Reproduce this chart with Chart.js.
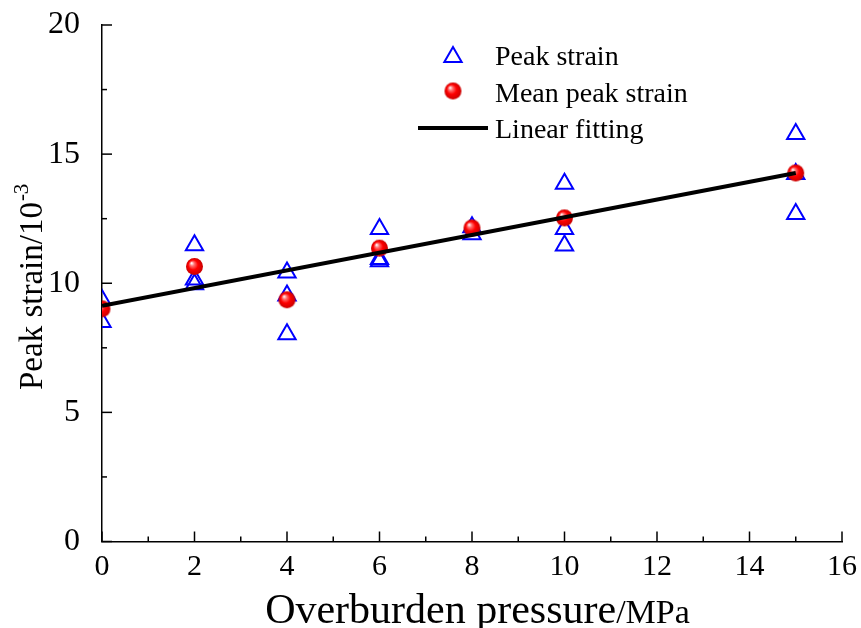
<!DOCTYPE html>
<html><head><meta charset="utf-8">
<script src="https://cdn.jsdelivr.net/npm/chart.js@4/dist/chart.umd.min.js"></script>
<style>html,body{margin:0;padding:0;background:#fff;}#wrap{width:861px;height:628px;position:relative;}</style>
</head><body><div id="wrap"><canvas id="c" width="861" height="628"></canvas></div>
<script>
// ---- data ----
const peakX = [0,0, 2,2,2, 4,4,4, 6,6,6, 8,8, 10,10,10, 15,15,15];
const peakY = [9.35,8.5, 11.47,10.15,9.96, 10.42,9.53,8.03, 12.1,10.94,10.85, 12.17,11.9, 13.85,12.1,11.46, 15.78,14.23,12.68];
const meanX = [0,2,4,6,8,10,15];
const meanY = [9.01,10.65,9.36,11.36,12.14,12.53,14.27];
const fitX = [0,15];
const fitY = [9.13,14.27];
const xTickValues = [0,2,4,6,8,10,12,14,16];
const yTickValues = [0,5,10,15,20];
const seriesNames = ['Peak strain','Mean peak strain','Linear fitting'];
const xTitleMain = 'Overburden pressure';
const xTitleUnit = '/MPa';
const yTitleMain = 'Peak strain/10';
const yTitleSup = '-3';

const FONT = "'Liberation Serif','Times New Roman',serif";

function makeSphere(r){
  const s = Math.ceil(r*2)+2;
  const cv = document.createElement('canvas');
  cv.width = s; cv.height = s;
  const g = cv.getContext('2d');
  const c = s/2;
  const grad = g.createRadialGradient(c-r*0.35, c-r*0.4, r*0.05, c, c, r);
  grad.addColorStop(0, '#fff4f4');
  grad.addColorStop(0.22, '#ff7070');
  grad.addColorStop(0.55, '#ff0000');
  grad.addColorStop(1, '#c80000');
  g.fillStyle = grad;
  g.beginPath(); g.arc(c, c, r, 0, Math.PI*2); g.fill();
  return cv;
}
const sphere = makeSphere(8.5);

const pts = (xs, ys) => xs.map((x,i)=>({x:x, y:ys[i]}));

const ticksPlugin = {
  id:'innerTicks',
  afterDraw(chart){
    const ctx = chart.ctx, xs = chart.scales.x, ys = chart.scales.y, a = chart.chartArea;
    ctx.save();
    ctx.strokeStyle = '#000'; ctx.lineWidth = 1.5;
    for (let v = 0; v <= 16; v += 1){
      const px = xs.getPixelForValue(v);
      const len = (v % 2 === 0) ? 10 : 5;
      ctx.beginPath(); ctx.moveTo(px, a.bottom); ctx.lineTo(px, a.bottom - len); ctx.stroke();
    }
    for (let v = 0; v <= 20; v += 2.5){
      const py = ys.getPixelForValue(v);
      const len = (v % 5 === 0) ? 10 : 5;
      ctx.beginPath(); ctx.moveTo(a.left, py); ctx.lineTo(a.left + len, py); ctx.stroke();
    }
    // axis titles
    ctx.fillStyle = '#000';
    ctx.textBaseline = 'alphabetic';
    ctx.textAlign = 'left';
    ctx.font = '42px ' + FONT;
    const w1 = ctx.measureText(xTitleMain).width;
    ctx.font = '34px ' + FONT;
    const w2 = ctx.measureText(xTitleUnit).width;
    const xStart = (265+690)/2 - (w1+w2)/2;
    ctx.font = '42px ' + FONT;
    ctx.fillText(xTitleMain, xStart, 623);
    ctx.font = '34px ' + FONT;
    ctx.fillText(xTitleUnit, xStart + w1, 623);
    // y title rotated
    ctx.save();
    ctx.translate(42, 390);
    ctx.rotate(-Math.PI/2);
    ctx.font = '33px ' + FONT;
    const wy = ctx.measureText(yTitleMain).width;
    ctx.fillText(yTitleMain, 0, 0);
    ctx.font = '21px ' + FONT;
    ctx.fillText(yTitleSup, wy + 1, -14);
    ctx.restore();
    // legend
    ctx.font = '28px ' + FONT;
    ctx.fillText(seriesNames[0], 495, 65);
    ctx.fillText(seriesNames[1], 495, 102);
    ctx.fillText(seriesNames[2], 495, 138);
    const tx = 453, ty = 57, r = 10;
    ctx.strokeStyle = '#0000ff'; ctx.lineWidth = 2;
    ctx.beginPath();
    ctx.moveTo(tx, ty - r);
    ctx.lineTo(tx + r*Math.sin(2*Math.PI/3), ty - r*Math.cos(2*Math.PI/3));
    ctx.lineTo(tx + r*Math.sin(4*Math.PI/3), ty - r*Math.cos(4*Math.PI/3));
    ctx.closePath(); ctx.stroke();
    ctx.drawImage(sphere, 453 - sphere.width/2, 91 - sphere.height/2);
    ctx.strokeStyle = '#000'; ctx.lineWidth = 4;
    ctx.beginPath(); ctx.moveTo(418, 128); ctx.lineTo(488, 128); ctx.stroke();
    ctx.restore();
  }
};

new Chart(document.getElementById('c'), {
  type:'scatter',
  data:{
    datasets:[
      {label:seriesNames[2], type:'line', data:pts(fitX, fitY), borderColor:'#000', borderWidth:4, pointRadius:0, fill:false, order:0, clip:0},
      {label:seriesNames[1], data:pts(meanX, meanY), pointStyle:sphere, pointRadius:8.5, order:1, clip:0},
      {label:seriesNames[0], data:pts(peakX, peakY), pointStyle:'triangle', pointRadius:10, borderColor:'#0000ff', backgroundColor:'rgba(0,0,0,0)', borderWidth:2, order:2, clip:0}
    ]
  },
  options:{
    responsive:false,
    animation:false,
    events:[],
    layout:{padding:{top:25, right:19, left:0, bottom:0}},
    plugins:{legend:{display:false}, tooltip:{enabled:false}},
    scales:{
      x:{type:'linear', min:0, max:16,
        afterFit(s){ s.height = 86.5; s.paddingLeft = 0; s.paddingRight = 0; },
        afterBuildTicks(s){ s.ticks = xTickValues.map(v=>({value:v})); },
        grid:{display:false, drawTicks:false},
        border:{display:true, color:'#000', width:1.5},
        ticks:{color:'#000', font:{family:FONT, size:30}, padding:8, maxRotation:0, autoSkip:false}
      },
      y:{type:'linear', min:0, max:20,
        afterFit(s){ s.width = 102; s.paddingTop = 0; s.paddingBottom = 0; },
        afterBuildTicks(s){ s.ticks = yTickValues.map(v=>({value:v})); },
        grid:{display:false, drawTicks:false},
        border:{display:true, color:'#000', width:1.5},
        ticks:{color:'#000', font:{family:FONT, size:32}, padding:22}
      }
    }
  },
  plugins:[ticksPlugin]
});
</script></body></html>
